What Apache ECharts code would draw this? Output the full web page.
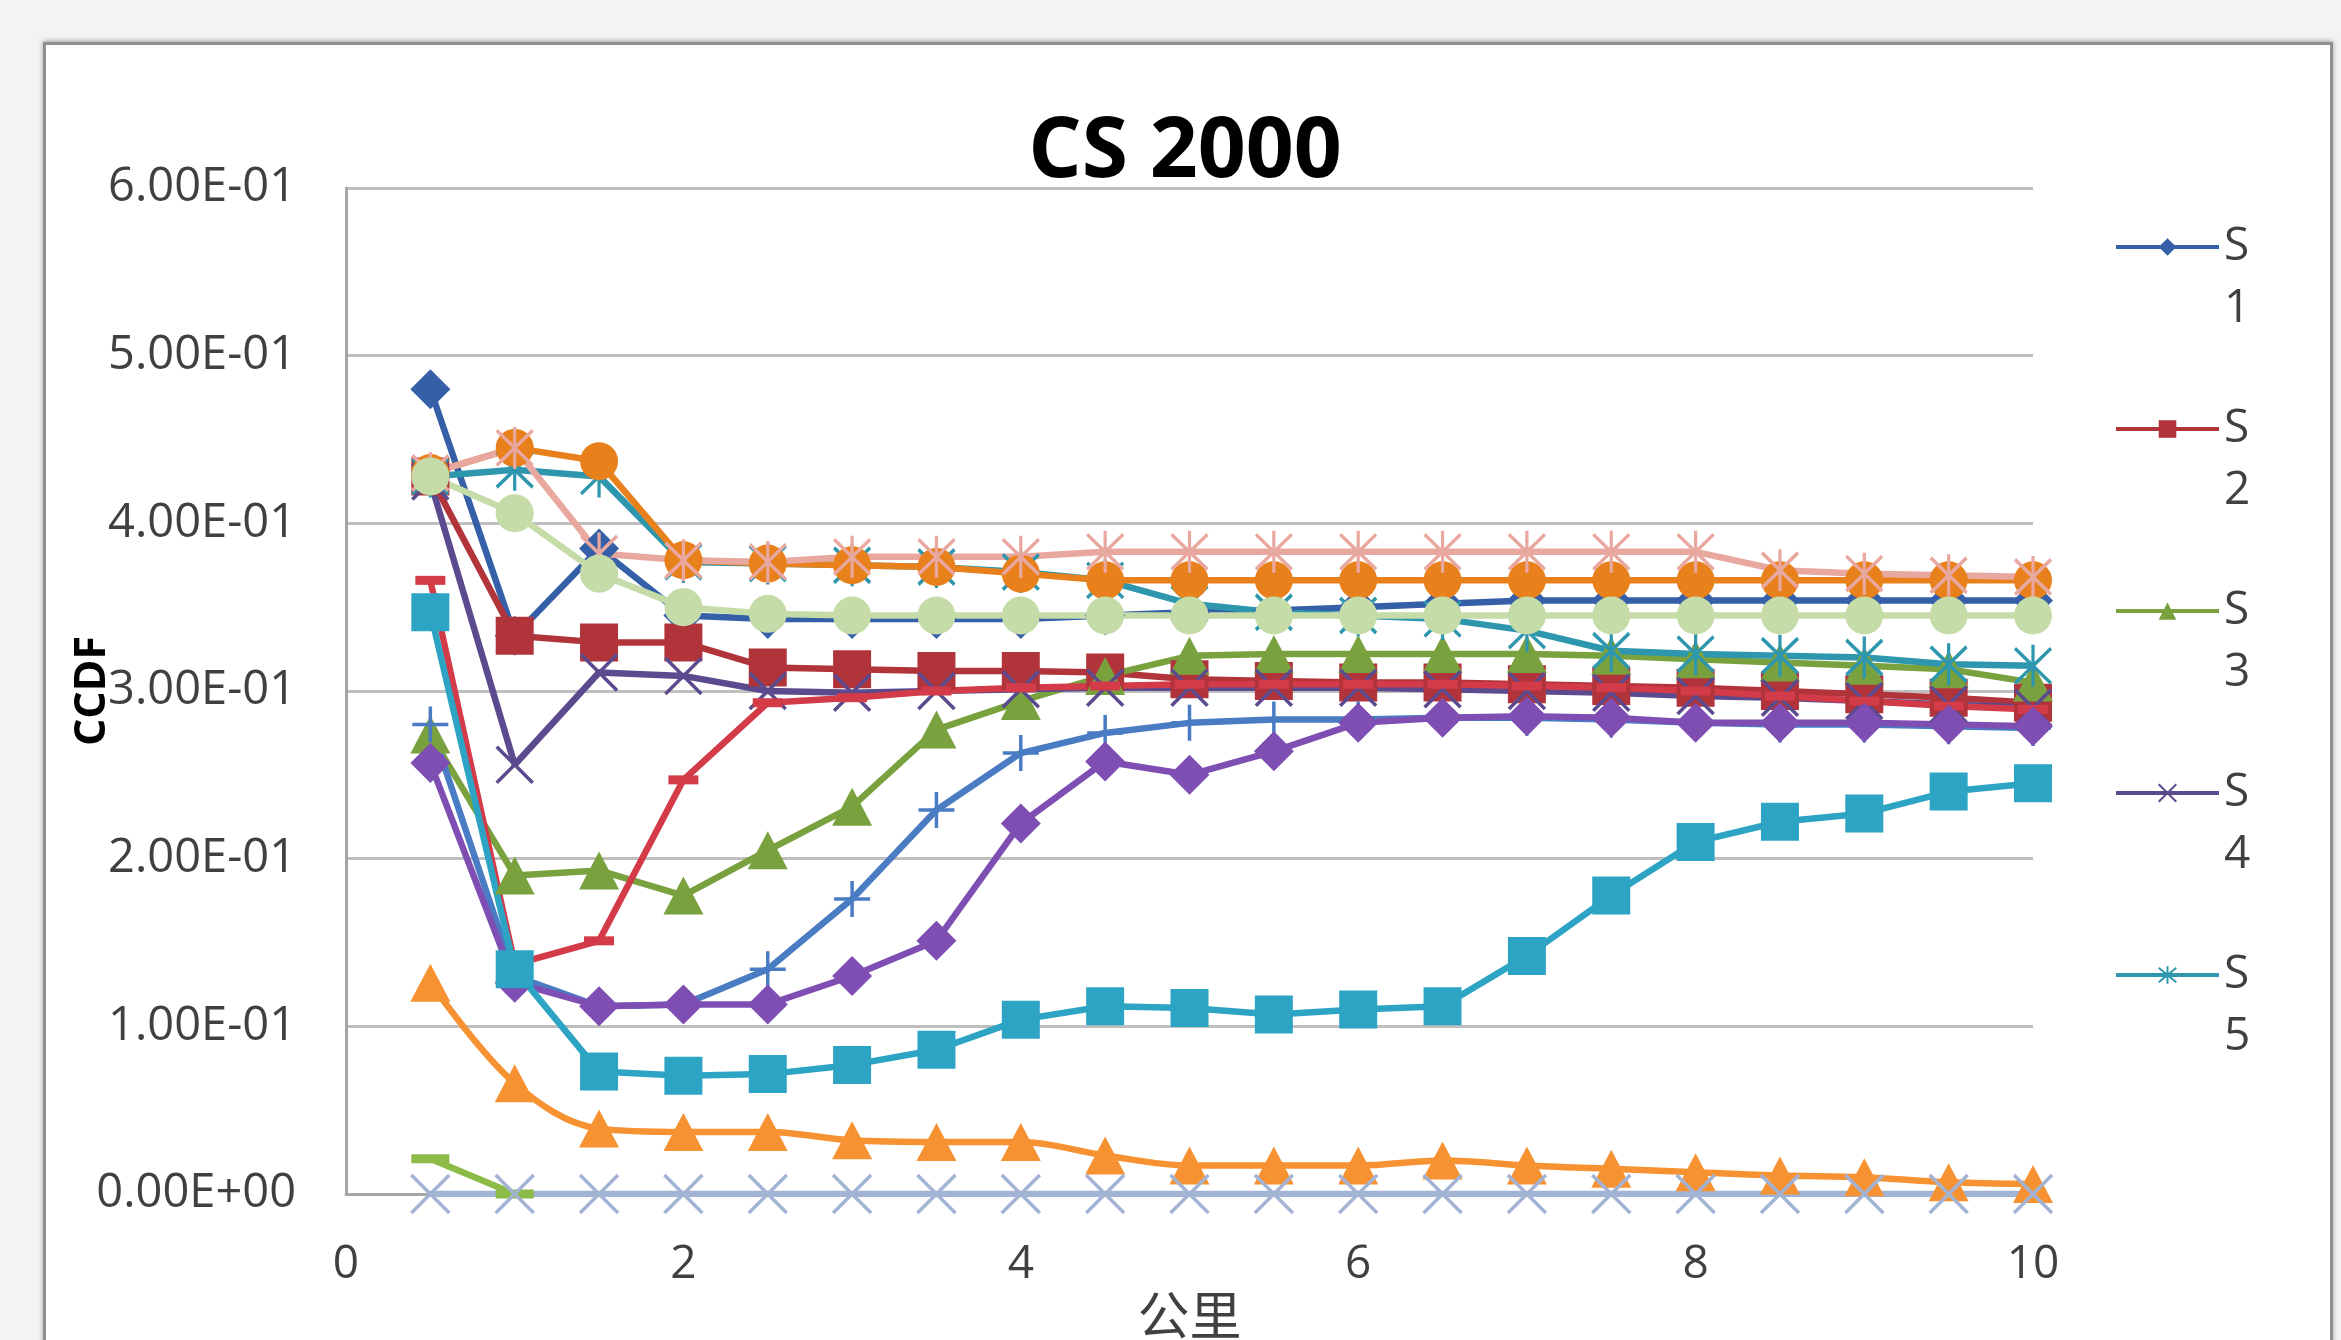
<!DOCTYPE html>
<html>
<head>
<meta charset="utf-8">
<title>CS 2000</title>
<script src="https://cdn.jsdelivr.net/npm/echarts@6/dist/echarts.min.js"></script>
<style>
  html, body { margin: 0; padding: 0; width: 2341px; height: 1340px; overflow: hidden; background: #F3F3F3; }
  #panel { position: absolute; left: 43px; top: 42px; width: 2284px; height: 1400px; background: #fff;
           border: 3px solid #8E8E8E; box-shadow: 0 -1px 5px rgba(0,0,0,0.35); }
  #chart { position: absolute; left: 0; top: 0; width: 2341px; height: 1340px; }
</style>
</head>
<body>
<div id="panel"></div>
<div id="chart"></div>
<script>
// distance (km)
const km = [0.5, 1, 1.5, 2, 2.5, 3, 3.5, 4, 4.5, 5, 5.5, 6, 6.5, 7, 7.5, 8, 8.5, 9, 9.5, 10];

// CCDF values per series (null = no point)
const s1  = [0.480, 0.333, 0.385, 0.345, 0.343, 0.343, 0.343, 0.343, 0.345, 0.347, 0.348, 0.350, 0.352, 0.354, 0.354, 0.354, 0.354, 0.354, 0.354, 0.354];
const s2  = [0.428, 0.333, 0.329, 0.329, 0.314, 0.313, 0.312, 0.312, 0.311, 0.307, 0.306, 0.305, 0.305, 0.304, 0.303, 0.302, 0.300, 0.298, 0.296, 0.293];
const s3  = [0.274, 0.190, 0.193, 0.178, 0.205, 0.231, 0.277, 0.294, 0.309, 0.321, 0.322, 0.322, 0.322, 0.322, 0.321, 0.319, 0.317, 0.315, 0.313, 0.305];
const s4  = [0.425, 0.256, 0.311, 0.309, 0.300, 0.299, 0.300, 0.301, 0.302, 0.302, 0.302, 0.302, 0.301, 0.300, 0.299, 0.297, 0.296, 0.294, 0.292, 0.290];
const s5  = [0.428, 0.432, 0.428, 0.377, 0.376, 0.375, 0.374, 0.371, 0.366, 0.352, 0.347, 0.345, 0.343, 0.336, 0.324, 0.322, 0.321, 0.320, 0.316, 0.315];
const s6  = [0.430, 0.445, 0.437, 0.378, 0.376, 0.375, 0.374, 0.370, 0.366, 0.366, 0.366, 0.366, 0.366, 0.366, 0.366, 0.366, 0.366, 0.366, 0.366, 0.366];
const s7  = [0.280, 0.130, 0.112, 0.113, 0.134, 0.176, 0.229, 0.263, 0.275, 0.281, 0.283, 0.283, 0.284, 0.284, 0.283, 0.281, 0.280, 0.280, 0.279, 0.278];
const s8  = [0.366, 0.137, 0.151, 0.247, 0.293, 0.296, 0.300, 0.302, 0.303, 0.304, 0.304, 0.304, 0.304, 0.303, 0.302, 0.300, 0.297, 0.294, 0.291, 0.289];
const s9  = [0.021, 0, null, null, null, null, null, null, null, null, null, null, null, null, null, null, null, null, null, null];
const s10 = [0.257, 0.126, 0.112, 0.113, 0.113, 0.130, 0.151, 0.221, 0.258, 0.250, 0.264, 0.281, 0.284, 0.285, 0.284, 0.281, 0.281, 0.281, 0.280, 0.279];
const s11 = [0.347, 0.134, 0.073, 0.0705, 0.0715, 0.077, 0.086, 0.104, 0.112, 0.111, 0.107, 0.110, 0.112, 0.142, 0.178, 0.210, 0.222, 0.227, 0.240, 0.245];
const s12 = [0.126, 0.066, 0.039, 0.037, 0.037, 0.032, 0.031, 0.031, 0.023, 0.017, 0.017, 0.017, 0.020, 0.017, 0.015, 0.013, 0.011, 0.010, 0.007, 0.006];
const s13 = [0, 0, 0, 0, 0, 0, 0, 0, 0, 0, 0, 0, 0, 0, 0, 0, 0, 0, 0, 0];
const s14 = [0.430, 0.445, 0.382, 0.378, 0.377, 0.380, 0.380, 0.380, 0.383, 0.383, 0.383, 0.383, 0.383, 0.383, 0.383, 0.383, 0.372, 0.370, 0.369, 0.368];
const s15 = [0.428, 0.406, 0.370, 0.350, 0.346, 0.345, 0.345, 0.345, 0.345, 0.345, 0.345, 0.345, 0.345, 0.345, 0.345, 0.345, 0.345, 0.345, 0.345, 0.345];

// y-axis ticks and the legend entries that are shown
const yTicks = [0, 0.1, 0.2, 0.3, 0.4, 0.5, 0.6];
const legendNames = ['S1', 'S2', 'S3', 'S4', 'S5'];

// marker shapes
const X_MARK    = 'path://M0,0L10,10M10,0L0,10';
const STAR_MARK = 'path://M0,1L10,11M10,1L0,11M5,0L5,12';
const PLUS_MARK = 'path://M5,0L5,10M0,5L10,5';
const DASH_MARK = 'path://M0,0L10,0L10,3L0,3Z';

// drawing style of each series
const looks = [
  { name: 'S1',  data: s1,  color: '#3560A8', symbol: 'diamond',  size: [40, 40] },
  { name: 'S2',  data: s2,  color: '#B2343B', symbol: 'rect',     size: 38 },
  { name: 'S3',  data: s3,  color: '#79A23E', symbol: 'triangle', size: [40, 38] },
  { name: 'S4',  data: s4,  color: '#5B4A8E', symbol: X_MARK,     size: 36, stroke: 3.5, markColor: '#5B4A8E' },
  { name: 'S5',  data: s5,  color: '#2E97AE', symbol: STAR_MARK,  size: [36, 42], stroke: 3.5, markColor: '#2E97AE' },
  { name: 'S6',  data: s6,  color: '#E8801C', symbol: 'circle',   size: 38 },
  { name: 'S7',  data: s7,  color: '#4A7CC4', symbol: PLUS_MARK,  size: 36, stroke: 3.5, markColor: '#4A7CC4' },
  { name: 'S8',  data: s8,  color: '#D23B47', symbol: DASH_MARK,  size: [30, 9] },
  { name: 'S9',  data: s9,  color: '#8CBB48', symbol: DASH_MARK,  size: [38, 9] },
  { name: 'S10', data: s10, color: '#7E4EB2', symbol: 'diamond',  size: [40, 40] },
  { name: 'S11', data: s11, color: '#2DA4C4', symbol: 'rect',     size: 38 },
  { name: 'S12', data: s12, color: '#F79232', symbol: 'triangle', size: [40, 38], smooth: 0.35 },
  { name: 'S13', data: s13, color: '#A3B3D3', symbol: X_MARK,     size: 38, stroke: 3.5, markColor: '#A3B3D3' },
  { name: 'S14', data: s14, color: '#E9A89F', symbol: STAR_MARK,  size: [36, 42], stroke: 3.5, markColor: '#E9A89F' },
  { name: 'S15', data: s15, color: '#C5DCA8', symbol: 'circle',   size: 38 }
];

function sci(v) {
  const parts = v.toExponential(2).split('e');
  const sign = parts[1][0] === '-' ? '-' : '+';
  const digits = parts[1].replace(/[+-]/, '').padStart(2, '0');
  return parts[0] + 'E' + sign + digits;
}

const LABEL_FONT = 'Open Sans';
const LABEL_COLOR = '#404040';

const series = looks.map(s => ({
  name: s.name,
  type: 'line',
  data: km.map((x, i) => [x, s.data[i]]),
  symbol: s.symbol,
  symbolSize: s.size,
  smooth: s.smooth || false,
  showAllSymbol: true,
  connectNulls: false,
  lineStyle: { color: s.color, width: 6.5 },
  itemStyle: s.stroke
    ? { color: s.markColor, borderColor: s.markColor, borderWidth: s.stroke }
    : { color: s.color, borderWidth: 0 },
  emphasis: { disabled: true },
  z: 2
}));

const chart = echarts.init(document.getElementById('chart'), null, { renderer: 'canvas' });
chart.setOption({
  animation: false,
  backgroundColor: 'transparent',
  title: {
    text: 'CS 2000',
    left: 1185,
    top: 111,
    padding: 0,
    textAlign: 'center',
    textStyle: { fontFamily: LABEL_FONT, fontWeight: 'bold', fontSize: 84, color: '#000' }
  },
  grid: { left: 346, right: 308, top: 188, bottom: 146, containLabel: false, outerBoundsMode: 'none' },
  legend: {
    data: legendNames,
    orient: 'vertical',
    left: 2114,
    top: 154,
    itemWidth: 103,
    itemHeight: 22,
    itemGap: -4,
    padding: 0,
    selectedMode: false,
    // a blank first line keeps the "S" row level with the legend line
    formatter: name => '\nS\n' + name.slice(1),
    lineStyle: { width: 4 },
    textStyle: { fontFamily: LABEL_FONT, fontSize: 46, lineHeight: 62, color: LABEL_COLOR }
  },
  xAxis: {
    type: 'value',
    min: 0,
    max: 10,
    interval: 2,
    name: '公里',
    nameLocation: 'middle',
    nameGap: 95,
    nameMoveOverlap: false,
    nameTextStyle: { fontFamily: 'Noto Sans CJK SC', fontSize: 52, color: LABEL_COLOR },
    axisLine: { show: true, onZero: false, lineStyle: { color: '#A6A6A6', width: 3 } },
    axisTick: { show: false },
    splitLine: { show: false },
    axisLabel: { margin: 48, fontFamily: LABEL_FONT, fontSize: 46, color: LABEL_COLOR }
  },
  yAxis: {
    type: 'value',
    min: yTicks[0],
    max: yTicks[yTicks.length - 1],
    interval: 0.1,
    name: 'CCDF',
    nameLocation: 'middle',
    nameGap: 232,
    nameMoveOverlap: false,
    nameTextStyle: { fontFamily: LABEL_FONT, fontWeight: 'bold', fontSize: 43, color: '#000' },
    axisLine: { show: true, lineStyle: { color: '#A6A6A6', width: 3 } },
    axisTick: { show: false },
    splitLine: { show: true, lineStyle: { color: '#BFBFBF', width: 3 } },
    axisLabel: { margin: 50, fontFamily: LABEL_FONT, fontSize: 47, color: LABEL_COLOR, formatter: v => sci(v) }
  },
  series: series
});
</script>
</body>
</html>
